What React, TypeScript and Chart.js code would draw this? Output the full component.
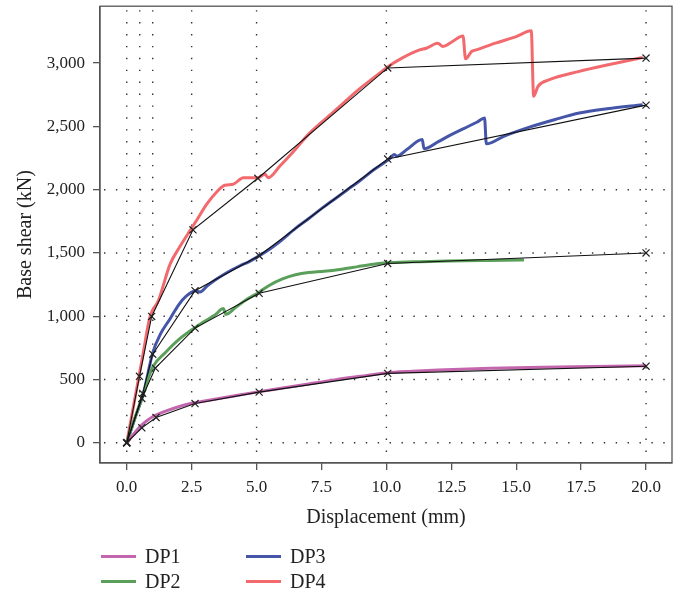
import React, { useEffect, useRef } from "react";
import { Chart, registerables } from "chart.js";

Chart.register(...registerables);

const FONT = "'Liberation Serif', 'DejaVu Serif', serif";

const xTicks = [0, 2.5, 5, 7.5, 10, 12.5, 15, 17.5, 20];
const yTicks = [0, 500, 1000, 1500, 2000, 2500, 3000];
const gridX = [0, 0.5, 1, 2.5, 5, 10, 20];
const gridY = [0, 500, 1000, 1500, 2000];

// Test curves
const dp1X = [0, 0.25, 0.5, 0.75, 1, 1.5, 2, 2.5, 3, 4, 5, 6, 7, 8, 9, 10, 11, 12, 14, 16, 18, 20];
const dp1Y = [0, 65, 125, 170, 205, 250, 285, 312, 330, 365, 400, 432, 465, 497, 525, 552, 565, 575, 588, 597, 602, 608];

const dp2X = [0, 0.3, 0.6, 1.0, 1.5, 2.0, 2.6, 3.0, 3.4, 3.72, 3.82, 4.2, 4.6, 5.1, 5.5, 6.0, 6.5, 7.0, 7.6, 8.2, 8.9, 9.5, 10.0, 11, 12, 13, 14, 15.3];
const dp2Y = [0, 185, 365, 598, 715, 815, 906, 960, 1010, 1060, 1015, 1070, 1130, 1190, 1245, 1295, 1328, 1346, 1356, 1370, 1392, 1410, 1422, 1430, 1434, 1438, 1441, 1445];

const dp3X = [0, 0.3, 0.64, 1.0, 1.3, 1.67, 2.0, 2.3, 2.63, 2.82, 3.1, 3.46, 3.9, 4.36, 4.7, 5.0, 5.5, 5.9, 6.5, 7.0, 7.5, 8.0, 8.5, 9.0, 9.5, 10.13, 10.3, 10.4, 10.8, 11.38, 11.45, 12.0, 12.5, 13.0, 13.5, 13.78, 13.85, 14.5, 15.51, 16.5, 17.43, 18.5, 19.87];
const dp3Y = [0, 185, 389, 710, 860, 980, 1090, 1160, 1200, 1192, 1240, 1294, 1350, 1399, 1430, 1465, 1530, 1590, 1694, 1770, 1850, 1925, 2000, 2075, 2155, 2245, 2279, 2265, 2320, 2397, 2323, 2380, 2435, 2485, 2535, 2567, 2362, 2420, 2494, 2555, 2606, 2640, 2672];

const dp4X = [0, 0.3, 0.6, 0.9, 1.22, 1.67, 1.99, 2.43, 2.7, 3.08, 3.5, 3.78, 4.1, 4.49, 5.06, 5.32, 5.45, 5.9, 6.5, 7.05, 8.0, 8.85, 9.74, 10.06, 10.6, 11.28, 11.54, 11.98, 12.18, 12.5, 12.95, 13.05, 13.28, 13.46, 14.2, 15.0, 15.58, 15.67, 15.84, 16.28, 17.43, 18.5, 19.87];
const dp4Y = [0, 335, 670, 1000, 1124, 1412, 1531, 1675, 1760, 1885, 1990, 2035, 2043, 2095, 2095, 2121, 2095, 2187, 2320, 2449, 2620, 2777, 2921, 2972, 3040, 3105, 3118, 3157, 3131, 3165, 3215, 3034, 3092, 3105, 3158, 3210, 3255, 2738, 2817, 2869, 2935, 2985, 3045];

// Bilinear idealisations (black, x markers)
const bi1X = [0, 0.58, 1.13, 2.63, 5.1, 10.05, 20];
const bi1Y = [0, 118, 200, 310, 400, 548, 605];
const bi2X = [0, 0.58, 1.1, 2.63, 5.1, 10.05, 20];
const bi2Y = [0, 350, 590, 906, 1181, 1417, 1500];
const bi3X = [0, 0.615, 1.0, 2.63, 5.1, 10.05, 20];
const bi3Y = [0, 390, 700, 1202, 1478, 2242, 2668];
const bi4X = [0, 0.49, 0.96, 2.55, 5.05, 10.05, 20];
const bi4Y = [0, 525, 998, 1683, 2090, 2962, 3040];

const names = ["DP1", "DP2", "DP3", "DP4"];
const colors = ["#c366ad", "#5ba05a", "#4555a8", "#f26a6e"];

const zip = (xs: number[], ys: number[]) => xs.map((x, i) => ({ x, y: ys[i] }));

const gridPlugin = {
  id: "customGrid",
  beforeDatasetsDraw(chart: any) {
    const { ctx, chartArea, scales } = chart;
    ctx.save();
    ctx.strokeStyle = "#333";
    ctx.lineWidth = 1.4;
    ctx.setLineDash([1.4, 10.5]);
    gridX.forEach((v) => {
      const px = scales.x.getPixelForValue(v);
      ctx.beginPath();
      ctx.moveTo(px, chartArea.top + 4);
      ctx.lineTo(px, chartArea.bottom);
      ctx.stroke();
    });
    gridY.forEach((v) => {
      const py = scales.y.getPixelForValue(v);
      ctx.beginPath();
      ctx.moveTo(chartArea.left + 4, py);
      ctx.lineTo(chartArea.right, py);
      ctx.stroke();
    });
    ctx.restore();
  },
  afterDraw(chart: any) {
    const { ctx, chartArea } = chart;
    ctx.save();
    ctx.strokeStyle = "#555";
    ctx.lineWidth = 1.3;
    ctx.strokeRect(chartArea.left, chartArea.top, chartArea.right - chartArea.left, chartArea.bottom - chartArea.top);
    ctx.restore();
  },
};

export default function App() {
  const ref = useRef<HTMLCanvasElement | null>(null);

  useEffect(() => {
    if (!ref.current) return;
    const curves = [zip(dp1X, dp1Y), zip(dp2X, dp2Y), zip(dp3X, dp3Y), zip(dp4X, dp4Y)];
    const bis = [zip(bi1X, bi1Y), zip(bi2X, bi2Y), zip(bi3X, bi3Y), zip(bi4X, bi4Y)];
    const datasets: any[] = [];
    curves.forEach((d, i) => {
      datasets.push({
        label: names[i],
        data: d,
        showLine: true,
        borderColor: colors[i],
        backgroundColor: colors[i],
        borderWidth: 3,
        pointRadius: 0,
        cubicInterpolationMode: "monotone",
        order: 2,
      });
    });
    bis.forEach((d, i) => {
      datasets.push({
        label: names[i] + " bilinear",
        data: d,
        showLine: true,
        borderColor: "#111",
        backgroundColor: "#111",
        borderWidth: 1.1,
        pointStyle: "crossRot",
        pointRadius: 5,
        pointBorderWidth: 1.2,
        pointBorderColor: "#222",
        order: 1,
      });
    });

    const chart = new Chart(ref.current, {
      type: "scatter",
      data: { datasets },
      plugins: [gridPlugin],
      options: {
        animation: false,
        responsive: true,
        maintainAspectRatio: false,
        layout: { padding: { left: 0, top: 5, right: 14, bottom: 64 } },
        plugins: { legend: { display: false }, tooltip: { enabled: false } },
        scales: {
          x: {
            type: "linear",
            min: -1.03,
            max: 21.0,
            afterBuildTicks: (s: any) => {
              s.ticks = xTicks.map((v) => ({ value: v }));
            },
            afterFit: (s: any) => {
              s.height = 70;
              s.paddingLeft = 0;
              s.paddingRight = 0;
              s.paddingTop = 0;
              s.paddingBottom = 0;
            },
            ticks: {
              callback: (v: any) => Number(v).toFixed(1),
              font: { family: FONT, size: 17 },
              color: "#222",
              padding: 7,
              maxRotation: 0,
            },
            grid: { drawOnChartArea: false, drawTicks: true, tickLength: 7, color: "#555", lineWidth: 1.3 },
            border: { display: true, color: "#555", width: 1.3 },
            title: {
              display: true,
              text: "Displacement (mm)",
              font: { family: FONT, size: 20 },
              color: "#222",
              padding: { top: 0, bottom: 3 },
            },
          },
          y: {
            type: "linear",
            min: -160,
            max: 3450,
            afterBuildTicks: (s: any) => {
              s.ticks = yTicks.map((v) => ({ value: v }));
            },
            afterFit: (s: any) => {
              s.width = 100;
              s.paddingLeft = 0;
              s.paddingRight = 0;
              s.paddingTop = 0;
              s.paddingBottom = 0;
            },
            ticks: {
              callback: (v: any) => Number(v).toLocaleString("en-US"),
              font: { family: FONT, size: 17 },
              color: "#222",
              padding: 8,
            },
            grid: { drawOnChartArea: false, drawTicks: true, tickLength: 7, color: "#555", lineWidth: 1.3 },
            border: { display: true, color: "#555", width: 1.3 },
            title: {
              display: true,
              text: "Base shear (kN)",
              font: { family: FONT, size: 20 },
              color: "#222",
              padding: { top: 14, bottom: 0 },
            },
          },
        },
      } as any,
    });
    return () => chart.destroy();
  }, []);

  const legendItems = [
    { name: names[0], color: colors[0], left: 101, top: 556 },
    { name: names[1], color: colors[1], left: 101, top: 581 },
    { name: names[2], color: colors[2], left: 246, top: 556 },
    { name: names[3], color: colors[3], left: 246, top: 581 },
  ];

  return (
    <div style={{ position: "fixed", left: 0, top: 0, width: 686, height: 597, background: "#fff" }}>
      <canvas ref={ref} />
      {legendItems.map((it) => (
        <div key={it.name} style={{ position: "absolute", left: it.left, top: it.top - 12, height: 24, display: "flex", alignItems: "center" }}>
          <div style={{ width: 35, height: 3, background: it.color }} />
          <span style={{ marginLeft: 9, fontFamily: FONT, fontSize: 20, color: "#222", lineHeight: "24px" }}>{it.name}</span>
        </div>
      ))}
    </div>
  );
}
